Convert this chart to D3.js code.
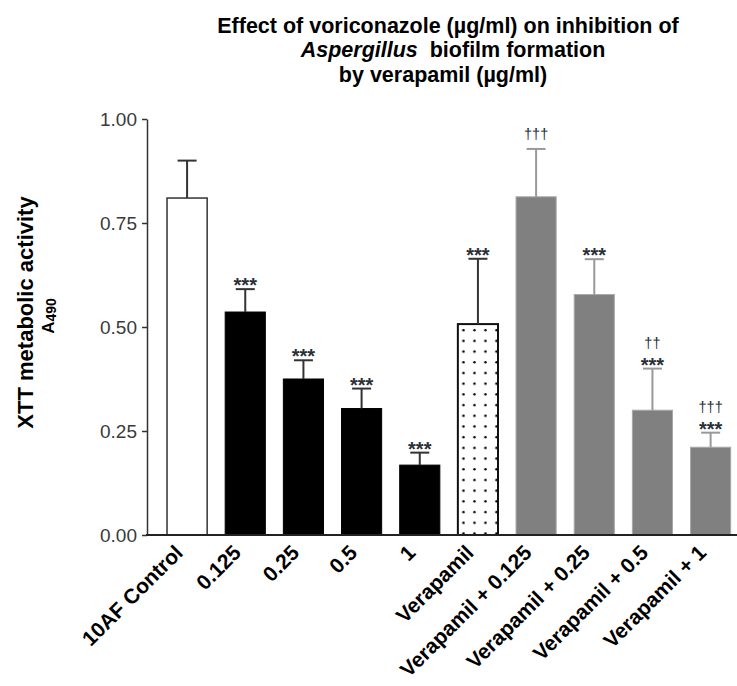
<!DOCTYPE html>
<html>
<head>
<meta charset="utf-8">
<script src="https://cdn.jsdelivr.net/npm/d3@7/dist/d3.min.js"></script>
<style>
  body { margin: 0; background: #fff; }
  svg text { font-family: Arial, "Liberation Sans", sans-serif; }
</style>
</head>
<body>
<svg id="chart" width="737" height="686"></svg>
<script>
// data
var categories = ["10AF Control", "0.125", "0.25", "0.5", "1", "Verapamil",
                  "Verapamil + 0.125", "Verapamil + 0.25", "Verapamil + 0.5", "Verapamil + 1"];
var means  = [0.810, 0.536, 0.375, 0.304, 0.168, 0.507, 0.813, 0.578, 0.300, 0.211];
var errors = [0.090, 0.055, 0.045, 0.048, 0.030, 0.157, 0.115, 0.085, 0.100, 0.035];
var groups = ["control", "vori", "vori", "vori", "vori", "vera", "combo", "combo", "combo", "combo"];
var stars   = ["", "***", "***", "***", "***", "***", "", "***", "***", "***"];
var daggers = ["", "", "", "", "", "", "\u2020\u2020\u2020", "", "\u2020\u2020", "\u2020\u2020\u2020"];
var yTicks = [0, 0.25, 0.5, 0.75, 1];

var groupStyle = {
  control: { fill: "#fff",    stroke: "#333",    sw: 1.5, err: "#333" },
  vori:    { fill: "#000",    stroke: "#000",    sw: 1,   err: "#333" },
  vera:    { fill: "url(#dots)", stroke: "#111", sw: 2,   err: "#333" },
  combo:   { fill: "#808080", stroke: "#a8a8a8", sw: 1,   err: "#999" }
};

var svg = d3.select("#chart");

var y = d3.scaleLinear().domain([0, 1]).range([535, 119]);
var x = d3.scaleBand()
    .domain(categories)
    .range([158, 739.7])
    .paddingInner(0.31)
    .paddingOuter(0.155);

var rows = categories.map(function(c, i) {
  return { cat: c, mean: means[i], err: errors[i], group: groups[i], star: stars[i], dag: daggers[i] };
});

// dotted fill for verapamil alone
var veraRow = rows[5];
var pat = svg.append("defs").append("pattern")
    .attr("id", "dots")
    .attr("patternUnits", "userSpaceOnUse")
    .attr("x", x(veraRow.cat))
    .attr("y", y(veraRow.mean))
    .attr("width", 11)
    .attr("height", 10.7);
pat.append("rect").attr("width", 11).attr("height", 10.7).attr("fill", "#fff");
pat.append("circle").attr("cx", 5.6).attr("cy", 6).attr("r", 1.2).attr("fill", "#000");

// bars
svg.append("g").selectAll("rect")
  .data(rows)
  .enter().append("rect")
    .attr("x", function(d) { return x(d.cat); })
    .attr("y", function(d) { return y(d.mean); })
    .attr("width", x.bandwidth())
    .attr("height", function(d) { return y(0) - y(d.mean); })
    .attr("fill", function(d) { return groupStyle[d.group].fill; })
    .attr("stroke", function(d) { return groupStyle[d.group].stroke; })
    .attr("stroke-width", function(d) { return groupStyle[d.group].sw; });

// error bars (upper only)
var eg = svg.append("g").selectAll("g")
  .data(rows)
  .enter().append("g")
    .attr("stroke", function(d) { return groupStyle[d.group].err; })
    .attr("stroke-width", 2);
eg.append("line")
    .attr("x1", function(d) { return x(d.cat) + x.bandwidth() / 2; })
    .attr("x2", function(d) { return x(d.cat) + x.bandwidth() / 2; })
    .attr("y1", function(d) { return y(d.mean); })
    .attr("y2", function(d) { return y(d.mean + d.err); });
eg.append("line")
    .attr("x1", function(d) { return x(d.cat) + x.bandwidth() / 2 - 9.5; })
    .attr("x2", function(d) { return x(d.cat) + x.bandwidth() / 2 + 9.5; })
    .attr("y1", function(d) { return y(d.mean + d.err); })
    .attr("y2", function(d) { return y(d.mean + d.err); });

// significance marks
svg.append("g").selectAll("text")
  .data(rows.filter(function(d) { return d.star; }))
  .enter().append("text")
    .attr("x", function(d) { return x(d.cat) + x.bandwidth() / 2; })
    .attr("y", function(d) { return y(d.mean + d.err) + 3; })
    .attr("text-anchor", "middle")
    .attr("font-size", 20)
    .attr("font-weight", "bold")
    .attr("fill", "#2a3038")
    .text(function(d) { return d.star; });

svg.append("g").selectAll("text")
  .data(rows.filter(function(d) { return d.dag; }))
  .enter().append("text")
    .attr("x", function(d) { return x(d.cat) + x.bandwidth() / 2; })
    .attr("y", function(d) { return y(d.mean + d.err) - (d.star ? 20.5 : 10); })
    .attr("text-anchor", "middle")
    .attr("font-size", 14.5)
    .attr("fill", "#1c2a3a")
    .text(function(d) { return d.dag; });

// y axis
var yAxis = svg.append("g")
    .attr("transform", "translate(147,0)")
    .call(d3.axisLeft(y)
      .tickValues(yTicks)
      .tickFormat(d3.format(".2f"))
      .tickSize(5)
      .tickSizeOuter(0)
      .tickPadding(5));
yAxis.select(".domain").attr("stroke", "#333").attr("stroke-width", 1.5);
yAxis.selectAll(".tick line").attr("stroke", "#333").attr("stroke-width", 1.5);
yAxis.selectAll(".tick text")
    .attr("font-size", 19)
    .attr("font-family", "Arial, 'Liberation Sans', sans-serif")
    .attr("fill", "#3a3a3a");

// x axis baseline + rotated labels
svg.append("line")
    .attr("x1", 146).attr("x2", 737)
    .attr("y1", y(0)).attr("y2", y(0))
    .attr("stroke", "#222").attr("stroke-width", 2);

svg.append("g").selectAll("text")
  .data(categories)
  .enter().append("text")
    .attr("transform", function(d) {
      return "translate(" + (x(d) + x.bandwidth() / 2 - 3) + ",554) rotate(-45)";
    })
    .attr("text-anchor", "end")
    .attr("font-size", 21)
    .attr("font-weight", "bold")
    .attr("fill", "#000")
    .text(function(d) { return d; });

// y axis title
svg.append("text")
    .attr("transform", "translate(33,312.5) rotate(-90)")
    .attr("text-anchor", "middle")
    .attr("font-size", 22)
    .attr("font-weight", "bold")
    .text("XTT metabolic activity");
var sub = svg.append("text")
    .attr("transform", "translate(54,316) rotate(-90)")
    .attr("text-anchor", "middle")
    .attr("font-weight", "bold");
sub.append("tspan").attr("font-size", 17).text("A");
sub.append("tspan").attr("font-size", 14).attr("dy", 2).text("490");

// title
var title = svg.append("g").attr("font-weight", "bold").attr("font-size", 21.5).attr("fill", "#000");
title.append("text").attr("x", 448).attr("y", 33).attr("text-anchor", "middle")
    .text("Effect of voriconazole (\u00b5g/ml) on inhibition of");
var t2 = title.append("text").attr("x", 453).attr("y", 57).attr("text-anchor", "middle")
    .style("white-space", "pre");
t2.append("tspan").attr("font-style", "italic").text("Aspergillus");
t2.append("tspan").text("  biofilm formation");
title.append("text").attr("x", 443).attr("y", 82).attr("text-anchor", "middle")
    .text("by verapamil (\u00b5g/ml)");
</script>
</body>
</html>
